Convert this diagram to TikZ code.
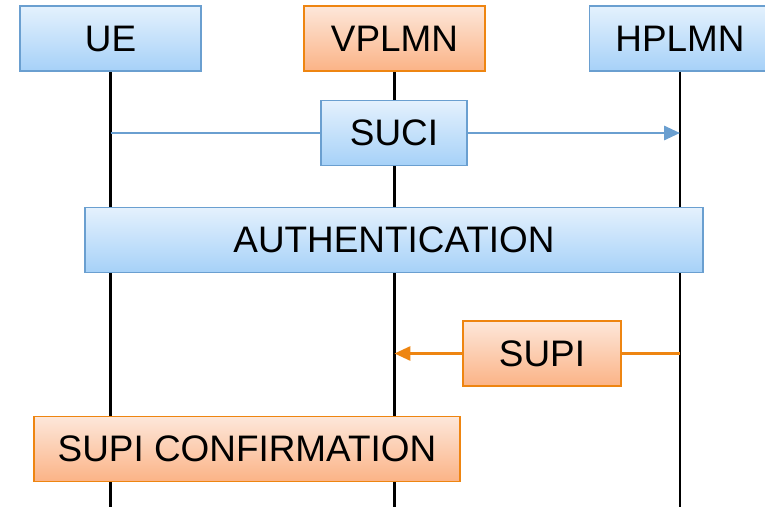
\documentclass[tikz,border=0pt]{standalone}
\usepackage{fontspec}
\setmainfont{Liberation Sans}
\usetikzlibrary{arrows.meta,positioning,backgrounds}
\definecolor{bluetop}{HTML}{E4F1FD}
\definecolor{bluebot}{HTML}{A6D1F8}
\definecolor{blueline}{HTML}{6A9FD0}
\definecolor{orgtop}{HTML}{FDE7DA}
\definecolor{orgbot}{HTML}{FBB386}
\definecolor{orgline}{HTML}{EE8511}

\begin{document}
\begin{tikzpicture}[x=0.02cm,y=-0.02cm,
  bluebox/.style={draw=blueline,line width=0.9pt,top color=bluetop,bottom color=bluebot,
    minimum height=1.3cm,inner sep=0pt,font=\fontsize{21}{25}\selectfont},
  orgbox/.style={draw=orgline,line width=0.9pt,top color=orgtop,bottom color=orgbot,
    minimum height=1.3cm,inner sep=0pt,font=\fontsize{21}{25}\selectfont},
  lifeline/.style={line width=1.3pt,black}]
\useasboundingbox (0,0) rectangle (765,507);
\coordinate (bottom) at (0,507);
% entities
\node[bluebox,minimum width=3.62cm] (ue) at (110.5,38.5) {UE};
\node[orgbox,minimum width=3.62cm] (vplmn) at (394.5,38.5) {VPLMN};
\node[bluebox,minimum width=3.62cm] (hplmn) at (680,38.5) {HPLMN};
% messages
\node[bluebox,minimum width=2.92cm] (suci) at (394,133) {SUCI};
\node[bluebox,minimum width=12.36cm] (auth) at (394,240) {AUTHENTICATION};
\node[orgbox,minimum width=3.16cm] (supi) at (542,353.5) {SUPI};
\node[orgbox,minimum width=8.52cm] (conf) at (247,449) {SUPI CONFIRMATION};
\begin{scope}[on background layer]
\draw[lifeline] (ue.south) -- (ue.south |- bottom);
\draw[lifeline] (vplmn.south) -- (vplmn.south |- bottom);
\draw[lifeline] (hplmn.south) -- (hplmn.south |- bottom);
\draw[blueline,line width=1.4pt,-{Triangle[length=9pt,width=8pt]}] (ue.south |- suci) -- (hplmn.south |- suci);
\draw[orgline,line width=1.4pt,-{Triangle[length=9pt,width=8pt]}] (hplmn.south |- supi) -- (vplmn.south |- supi);
\end{scope}
\end{tikzpicture}
\end{document}
